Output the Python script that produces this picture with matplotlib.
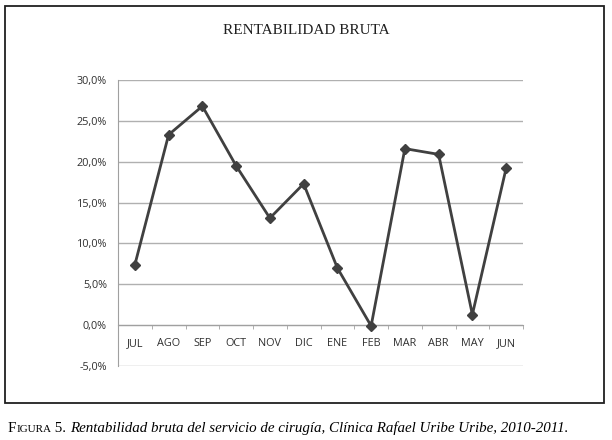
import matplotlib
matplotlib.use('Agg')
import matplotlib.pyplot as plt
from matplotlib.patches import Rectangle
from matplotlib.ticker import FuncFormatter

meses = ['JUL', 'AGO', 'SEP', 'OCT', 'NOV', 'DIC', 'ENE', 'FEB', 'MAR', 'ABR', 'MAY', 'JUN']
rentabilidad = [7.4, 23.3, 26.8, 19.5, 13.1, 17.3, 7.0, -0.1, 21.6, 20.9, 1.3, 19.2]
y_ticks = [-5, 0, 5, 10, 15, 20, 25, 30]

fig = plt.figure(figsize=(6.12, 4.40), dpi=100)
ax = fig.add_axes([118 / 612, 1 - 366 / 440, 405 / 612, 286 / 440])

x = list(range(len(meses)))
ax.plot(x, rentabilidad, color='#404040', lw=2, marker='D', ms=5.5,
        markerfacecolor='#404040', markeredgecolor='#404040', zorder=3)

ax.set_xlim(-0.5, len(meses) - 0.5)
ax.set_ylim(-5, 30)
ax.set_yticks(y_ticks)
ax.yaxis.set_major_formatter(FuncFormatter(lambda v, p: f'{v:.1f}%'.replace('.', ',')))
ax.grid(axis='y', color='#b0b0b0', lw=1)
ax.set_axisbelow(True)

for s in ['top', 'right']:
    ax.spines[s].set_visible(False)
ax.spines['left'].set_color('#a0a0a0')
ax.spines['bottom'].set_position(('data', 0))
ax.spines['bottom'].set_color('#a0a0a0')

ax.set_xticks(x)
ax.set_xticklabels(meses)
ax.set_xticks([i - 0.5 for i in range(len(meses) + 1)], minor=True)
ax.tick_params(axis='x', which='major', length=0, pad=9, labelsize=7.8, labelcolor='#303030')
ax.tick_params(axis='x', which='minor', length=3, color='#a0a0a0', direction='out')
ax.tick_params(axis='y', length=0, pad=8, labelsize=7.8, labelcolor='#303030')
for lab in ax.get_xticklabels() + ax.get_yticklabels():
    lab.set_family('Open Sans')

fig.text(0.5, 1 - 30 / 440, 'RENTABILIDAD BRUTA', ha='center', va='center',
         family='Liberation Serif', fontsize=11, color='#202020')

fig.patches.append(Rectangle((5 / 612, 1 - 403 / 440), 599 / 612, 397 / 440,
                             transform=fig.transFigure, fill=False, ec='#202020', lw=1.3))

# pie de figura con versalitas
yb = 1 - 432 / 440
t1 = fig.text(8 / 612, yb, 'F', family='Liberation Serif', fontsize=10.8, va='baseline')
t2 = fig.text(0, yb, 'IGURA', family='Liberation Serif', fontsize=8, va='baseline')
fig.canvas.draw()
r = fig.canvas.get_renderer()
bb = t1.get_window_extent(r)
t2.set_position((bb.x1 / 612, yb))
bb = t2.get_window_extent(r)
t3 = fig.text(bb.x1 / 612, yb, ' 5. ', family='Liberation Serif', fontsize=10.8, va='baseline')
bb = t3.get_window_extent(r)
fig.text(bb.x1 / 612, yb,
         'Rentabilidad bruta del servicio de cirugía, Clínica Rafael Uribe Uribe, 2010-2011.',
         family='Liberation Serif', style='italic', fontsize=10.8, va='baseline')

fig.savefig('out.png', dpi=100)
